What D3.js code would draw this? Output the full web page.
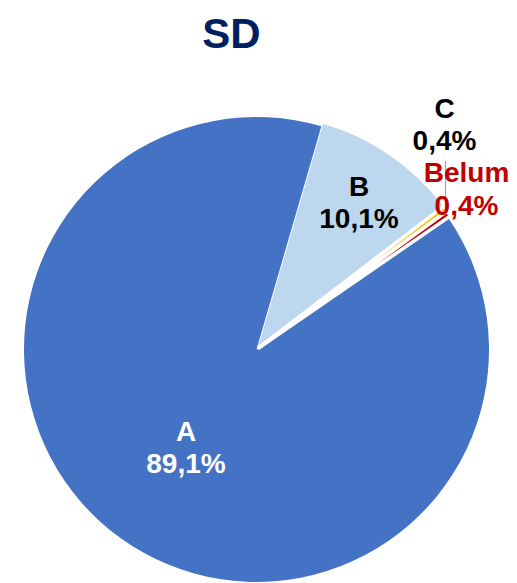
<!DOCTYPE html>
<html>
<head>
<meta charset="utf-8">
<script src="https://cdn.jsdelivr.net/npm/d3@7/dist/d3.min.js"></script>
<style>
  html, body { margin: 0; padding: 0; background: #ffffff; }
  svg { display: block; }
</style>
</head>
<body>
<script>
const title = "SD";
const categories = ["A", "B", "C", "Belum"];
const values = [89.1, 10.1, 0.4, 0.4];
const valueLabels = ["89,1%", "10,1%", "0,4%", "0,4%"];
const colors = ["#4472C4", "#BDD7EE", "#FFC000", "#C00000"];
const labelColors = ["#FFFFFF", "#000000", "#000000", "#C00000"];

const W = 517, H = 583;
const cx = 256.5, cy = 349.5, R = 232.5;
const startDeg = 55.44;

const svg = d3.select("body").append("svg").attr("width", W).attr("height", H);

svg.append("text")
  .attr("x", 231.5).attr("y", 48)
  .attr("text-anchor", "middle")
  .attr("font-family", "Liberation Sans, Arial, sans-serif")
  .attr("font-weight", "bold")
  .attr("font-size", 42)
  .attr("fill", "#002060")
  .text(title);

const data = categories.map((c, i) => ({ cat: c, value: values[i], label: valueLabels[i], color: colors[i], lc: labelColors[i] }));

const pie = d3.pie().sort(null).value(d => d.value)
  .startAngle(startDeg * Math.PI / 180)
  .endAngle(startDeg * Math.PI / 180 + 2 * Math.PI);
const arcs = pie(data);
const arc = d3.arc().innerRadius(0).outerRadius(R);

const g = svg.append("g").attr("transform", `translate(${cx},${cy})`);

const explode = [0, 3, 3, 3];
const strokeW = [0, 0, 3.6, 3.6];

g.selectAll("path.slice")
  .data(arcs)
  .join("path")
  .attr("class", "slice")
  .attr("d", arc)
  .attr("transform", (d, i) => {
    const m = (d.startAngle + d.endAngle) / 2;
    return `translate(${explode[i] * Math.sin(m)},${-explode[i] * Math.cos(m)})`;
  })
  .attr("fill", d => d.data.color)
  .attr("stroke", "#ffffff")
  .attr("stroke-width", (d, i) => strokeW[i])
  .attr("stroke-linejoin", "round");

// Leader line for C
g.append("line")
  .attr("x1", 445.5 - cx).attr("y1", 161 - cy)
  .attr("x2", 445.5 - cx).attr("y2", 200 - cy)
  .attr("stroke", "#A6A6A6").attr("stroke-width", 1.2);

// labels: [category x, category baseline, value baseline]
const labelPos = [
  { x: 186, y1: 441, y2: 473 },
  { x: 359, y1: 196, y2: 228 },
  { x: 444.5, y1: 118, y2: 150 },
  { x: 466.5, y1: 182, y2: 215 }
];

const lab = svg.append("g")
  .attr("font-family", "Liberation Sans, Arial, sans-serif")
  .attr("font-weight", "bold")
  .attr("font-size", 28)
  .attr("text-anchor", "middle");

data.forEach((d, i) => {
  const p = labelPos[i];
  lab.append("text").attr("x", p.x).attr("y", p.y1).attr("fill", d.lc).text(d.cat);
  lab.append("text").attr("x", p.x).attr("y", p.y2).attr("fill", d.lc).text(d.label);
});
</script>
</body>
</html>
